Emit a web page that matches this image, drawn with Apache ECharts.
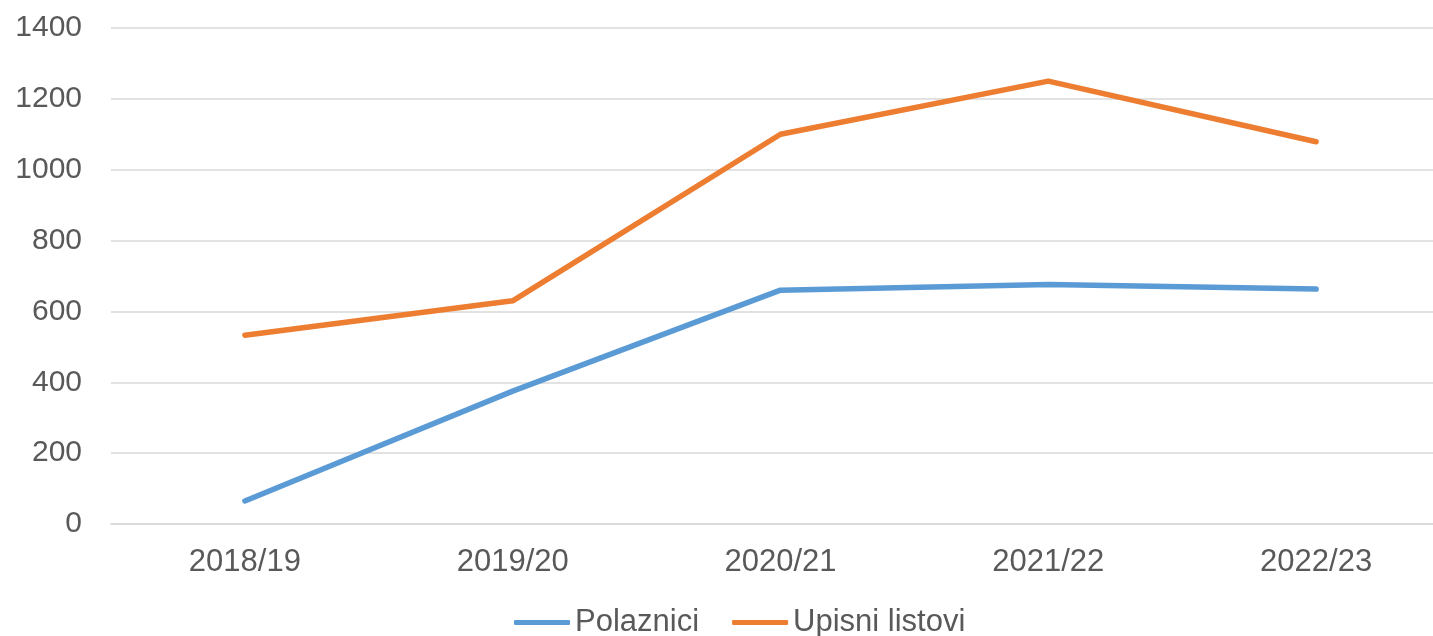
<!DOCTYPE html>
<html>
<head>
<meta charset="utf-8">
<script src="https://cdn.jsdelivr.net/npm/echarts@6/dist/echarts.min.js"></script>
<style>
    html, body { margin: 0; padding: 0; background: #fff; }
    #chart { width: 1433px; height: 636px; }
</style>
</head>
<body>
<div id="chart"></div>
<script>
    // podaci
    var years = ['2018/19', '2019/20', '2020/21', '2021/22', '2022/23'];
    var polaznici = [65, 375, 660, 676, 663];
    var upisniListovi = [533, 630, 1100, 1250, 1079];
    var yTicks = [0, 200, 400, 600, 800, 1000, 1200, 1400];

    var chart = echarts.init(document.getElementById('chart'));

    var option = {
        animation: false,
        color: ['#5B9BD5', '#ED7D31'],
        textStyle: { fontFamily: 'Liberation Sans, Arial, sans-serif' },
        grid: {
            left: 111,
            width: 1339,
            top: 28,
            bottom: 112,
            outerBoundsMode: 'none'
        },
        legend: {
            top: 602,
            left: 509,
            itemWidth: 56,
            itemHeight: 5,
            itemGap: 33,
            icon: 'roundRect',
            textStyle: { fontSize: 31, color: '#595959' },
            data: ['Polaznici', 'Upisni listovi']
        },
        xAxis: {
            type: 'category',
            boundaryGap: true,
            data: years,
            axisLine: { lineStyle: { color: '#d9d9d9', width: 1.5 } },
            axisTick: { show: false },
            axisLabel: { fontSize: 31, color: '#595959', margin: 23 }
        },
        yAxis: {
            type: 'value',
            min: yTicks[0],
            max: yTicks[yTicks.length - 1],
            interval: 200,
            axisLine: { show: false },
            axisTick: { show: false },
            axisLabel: {
                fontSize: 30,
                color: '#595959',
                margin: 29,
                formatter: function(v) { return String(v); }
            },
            splitLine: { lineStyle: { color: '#d9d9d9', width: 1.5 } }
        },
        series: [{
            name: 'Polaznici',
            type: 'line',
            data: polaznici,
            symbol: 'none',
            lineStyle: { width: 5.5, cap: 'round', join: 'round' }
        }, {
            name: 'Upisni listovi',
            type: 'line',
            data: upisniListovi,
            symbol: 'none',
            lineStyle: { width: 5.5, cap: 'round', join: 'round' }
        }]
    };

    chart.setOption(option);
</script>
</body>
</html>
